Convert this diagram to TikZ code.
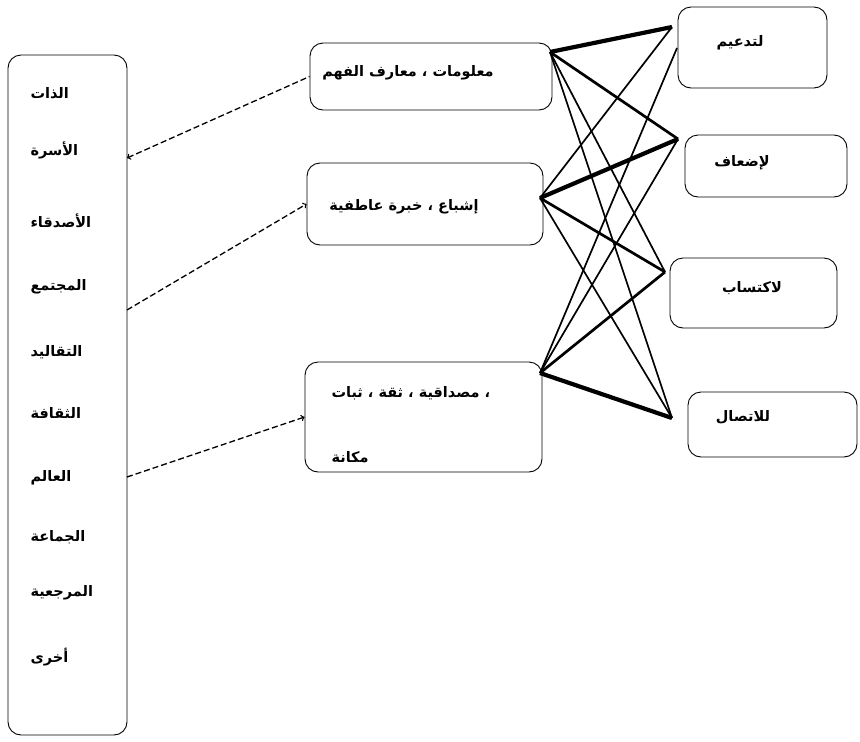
\documentclass[tikz,border=0pt]{standalone}
\usepackage{fontspec}
\newfontfamily\arabicfont[Script=Arabic]{DejaVu Sans}
\TeXXeTstate=1
\newcommand\artext[1]{{\arabicfont\bfseries\beginR #1\endR}}
\begin{document}
\begin{tikzpicture}[x=1pt,y=-1pt,
    box/.style={draw,rounded corners=13pt,line width=0.9pt},
    lbl/.style={font=\fontsize{14.5}{17}\selectfont},
    link/.style={line width=1.3pt,dash pattern=on 6pt off 3pt},
    thin/.style={line width=1.7pt},
    mid/.style={line width=2.7pt},
    thick/.style={line width=4.2pt}]
    \useasboundingbox (0,0) rectangle (860,742);
    \node[box,minimum width=119pt,minimum height=680pt] (src) at (67.5,395) {};
    \foreach \y/\t [count=\i] in {93/الذات,150/الأسرة,221/الأصدقاء,287/المجتمع,352/التقاليد,413/الثقافة,478/العالم,537/الجماعة,593/المرجعية,657/أخرى}
        \node[lbl,anchor=west] (l\i) at (27,\y) {\artext{\t}};
    \node[box,minimum width=242pt,minimum height=67pt] (m1) at (431,76.5) {};
    \node[box,minimum width=236pt,minimum height=82pt] (m2) at (425,204) {};
    \node[box,minimum width=237pt,minimum height=110pt] (m3) at (423.5,417) {};
    \node[lbl] (m1t) at (408,73) {\artext{معلومات ، معارف الفهم}};
    \node[lbl] (m2t) at (404,207) {\artext{إشباع ، خبرة عاطفية}};
    \node[lbl,anchor=west] (m3t) at (328,393) {\artext{، مصداقية ، ثقة ، ثبات}};
    \node[lbl,anchor=west] (m3u) at (328,457) {\artext{مكانة}};
    \node[box,minimum width=149pt,minimum height=81pt] (r1) at (752.5,47.5) {};
    \node[box,minimum width=162pt,minimum height=62pt] (r2) at (766,166) {};
    \node[box,minimum width=167pt,minimum height=70pt] (r3) at (753.5,293) {};
    \node[box,minimum width=169pt,minimum height=65pt] (r4) at (772.5,424.5) {};
    \node[lbl] (r1t) at (740,43) {\artext{لتدعيم}};
    \node[lbl] (r2t) at (742,163) {\artext{لإضعاف}};
    \node[lbl] (r3t) at (752,288) {\artext{لاكتساب}};
    \node[lbl] (r4t) at (743,417) {\artext{للاتصال}};
    \coordinate (s1) at (127,158);
    \coordinate (s2) at (127,310);
    \coordinate (s3) at (127,477);
    \draw[link,<-] (s1) -- (m1.west);
    \draw[link,->] (s2) -- (m2.west);
    \draw[link,->] (s3) -- (m3.west);
    \coordinate (h1) at (550,52);
    \coordinate (h2) at (540,198);
    \coordinate (h3) at (540,373);
    \coordinate (in1) at (672,27);
    \coordinate (in1b) at (677,48);
    \coordinate (in2) at (678,139);
    \coordinate (in3) at (665,272);
    \coordinate (in4) at (672,418);
    \draw[thick] (h1) -- (in1);
    \draw[mid] (h1) -- (in2);
    \draw[thin] (h1) -- (in3);
    \draw[thin] (h1) -- (in4);
    \draw[thin] (h2) -- (in1);
    \draw[thick] (h2) -- (in2);
    \draw[mid] (h2) -- (in3);
    \draw[thin] (h2) -- (in4);
    \draw[thin] (h3) -- (in1b);
    \draw[thin] (h3) -- (in2);
    \draw[mid] (h3) -- (in3);
    \draw[thick] (h3) -- (in4);
\end{tikzpicture}
\end{document}
